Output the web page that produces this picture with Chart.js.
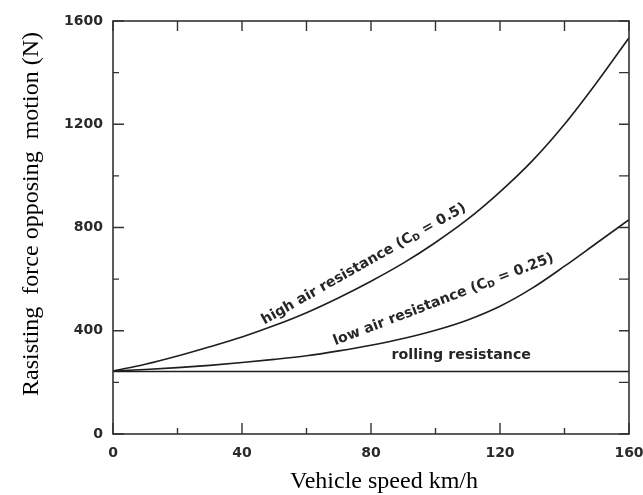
<!DOCTYPE html>
<html>
<head>
<meta charset="utf-8">
<script src="https://cdn.jsdelivr.net/npm/chart.js@4.4.0/dist/chart.umd.min.js"></script>
<style>
  html, body { margin: 0; padding: 0; background: #fff; }
</style>
</head>
<body>
<canvas id="chart" width="643" height="495"></canvas>
<script>
/* ----------------------------------------------------------
   DATA (km/h, N)
----------------------------------------------------------- */
const speeds   = [0, 10, 20, 30, 40, 50, 60, 70, 80, 90, 100, 110, 120, 130, 140, 150, 160];
const highAir  = [244, 270, 302, 338, 376, 420, 470, 528, 592, 662, 742, 832, 938, 1058, 1200, 1362, 1535];
const lowAir   = [244, 250, 257, 266, 277, 289, 303, 322, 344, 370, 402, 442, 495, 565, 650, 740, 830];
const rolling  = [242, 242, 242, 242, 242, 242, 242, 242, 242, 242, 242, 242, 242, 242, 242, 242, 242];

const xTickLabels = [0, 40, 80, 120, 160];
const yTickLabels = [0, 400, 800, 1200, 1600];
const xMinor = [20, 60, 100, 140];
const yMinor = [200, 600, 1000, 1400];

const xTitle = "Vehicle speed km/h";
const yTitle = "Rasisting  force opposing  motion (N)";

// curve captions, anchored in data units
const captions = [
    { parts: [["high air resistance (C"], ["D", true], [" = 0.5)"]], x: 77.8, y: 658, angle: -29.5 },
    { parts: [["low air resistance (C"], ["D", true], [" = 0.25)"]], x: 102.5, y: 520, angle: -21 },
    { parts: [["rolling resistance"]], x: 108, y: 303, angle: 0 }
];

const toPoints = arr => arr.map((v, i) => ({ x: speeds[i], y: v }));

const INK = "#1e1e1e";
const labelFont = "bold 14.2px 'DejaVu Sans'";
const subFont = "bold 9.3px 'DejaVu Sans'";

/* ----------------------------------------------------------
   FRAME, INWARD TICKS, CAPTIONS, TITLES
----------------------------------------------------------- */
const framePlugin = {
    id: "frame",
    afterDraw(chart) {
        const { ctx, chartArea: a, scales } = chart;
        const x = scales.x, y = scales.y;
        ctx.save();

        ctx.strokeStyle = "#333";
        ctx.lineWidth = 1.6;
        ctx.strokeRect(a.left, a.top, a.right - a.left, a.bottom - a.top);

        ctx.lineWidth = 1.4;
        ctx.beginPath();
        const xt = (v, len) => {
            const px = x.getPixelForValue(v);
            ctx.moveTo(px, a.bottom); ctx.lineTo(px, a.bottom - len);
            ctx.moveTo(px, a.top); ctx.lineTo(px, a.top + 10);
        };
        const yt = (v, len) => {
            const py = y.getPixelForValue(v);
            ctx.moveTo(a.left, py); ctx.lineTo(a.left + len, py);
            ctx.moveTo(a.right, py); ctx.lineTo(a.right - 10, py);
        };
        xTickLabels.forEach(v => xt(v, 11));
        xMinor.forEach(v => xt(v, 6));
        yTickLabels.forEach(v => yt(v, 11));
        yMinor.forEach(v => yt(v, 6));
        ctx.stroke();

        // captions along the curves
        ctx.fillStyle = "#262626";
        ctx.textBaseline = "middle";
        captions.forEach(c => {
            let total = 0;
            c.parts.forEach(p => {
                ctx.font = p[1] ? subFont : labelFont;
                total += ctx.measureText(p[0]).width;
            });
            ctx.save();
            ctx.translate(x.getPixelForValue(c.x), y.getPixelForValue(c.y));
            ctx.rotate(c.angle * Math.PI / 180);
            let cx = -total / 2;
            c.parts.forEach(p => {
                ctx.font = p[1] ? subFont : labelFont;
                ctx.textAlign = "left";
                ctx.fillText(p[0], cx, p[1] ? 3 : 0);
                cx += ctx.measureText(p[0]).width;
            });
            ctx.restore();
        });

        // axis titles
        ctx.fillStyle = "#000";
        ctx.font = "24px 'Liberation Serif'";
        ctx.textAlign = "center";
        ctx.textBaseline = "middle";
        ctx.fillText(xTitle, 384, 482);
        ctx.save();
        ctx.translate(32, 214);
        ctx.rotate(-Math.PI / 2);
        ctx.fillText(yTitle, 0, 0);
        ctx.restore();

        ctx.restore();
    }
};

const lineSet = (label, arr) => ({
    label: label,
    data: toPoints(arr),
    borderColor: INK,
    borderWidth: 1.6,
    pointRadius: 0,
    cubicInterpolationMode: "monotone",
    fill: false
});

new Chart(document.getElementById("chart"), {
    type: "line",
    data: {
        datasets: [
            lineSet("high air resistance", highAir),
            lineSet("low air resistance", lowAir),
            lineSet("rolling resistance", rolling)
        ]
    },
    options: {
        responsive: false,
        animation: false,
        devicePixelRatio: 1,
        layout: { padding: { top: 21, right: 14, left: 0, bottom: 0 } },
        plugins: { legend: { display: false }, tooltip: { enabled: false } },
        scales: {
            x: {
                type: "linear",
                min: 0,
                max: 160,
                afterBuildTicks: s => { s.ticks = xTickLabels.map(v => ({ value: v })); },
                afterFit: s => { s.height = 61; s.paddingLeft = 0; s.paddingRight = 0; },
                grid: { display: false, drawTicks: false },
                border: { display: false },
                ticks: {
                    padding: 11,
                    maxRotation: 0,
                    color: "#2a2a2a",
                    callback: v => String(v),
                    font: { family: "'DejaVu Sans'", size: 14, weight: "bold" }
                }
            },
            y: {
                min: 0,
                max: 1600,
                afterBuildTicks: s => { s.ticks = yTickLabels.map(v => ({ value: v })); },
                afterFit: s => { s.width = 113; s.paddingTop = 0; s.paddingBottom = 0; },
                grid: { display: false, drawTicks: false },
                border: { display: false },
                ticks: {
                    padding: 10,
                    color: "#2a2a2a",
                    callback: v => String(v),
                    font: { family: "'DejaVu Sans'", size: 14, weight: "bold" }
                }
            }
        }
    },
    plugins: [framePlugin]
});
</script>
</body>
</html>
